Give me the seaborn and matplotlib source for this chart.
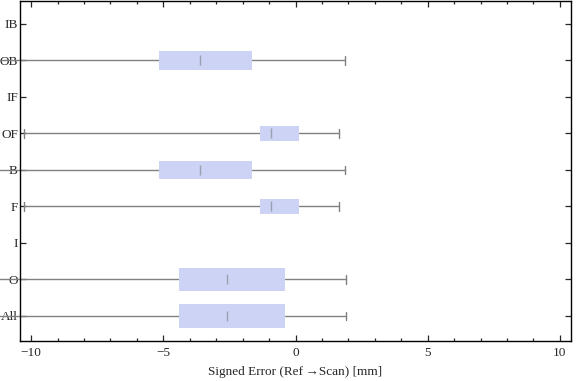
import numpy as np
import matplotlib
matplotlib.use("Agg")
import matplotlib.pyplot as plt
import seaborn as sns
from matplotlib.ticker import MultipleLocator

# rows bottom -> top
categories = ["All", "O", "I", "F", "B", "OF", "IF", "OB", "IB"]
# stats for rows that have a box (None = empty row)
whislo = [-11.3, -11.3, None, -10.27, -11.3, -10.27, None, -11.3, None]
q1     = [-4.40, -4.40, None, -1.34, -5.16, -1.34, None, -5.16, None]
med    = [-2.60, -2.60, None, -0.91, -3.61, -0.91, None, -3.61, None]
q3     = [-0.40, -0.40, None, 0.13, -1.66, 0.13, None, -1.66, None]
whishi = [1.90, 1.90, None, 1.63, 1.88, 1.63, None, 1.88, None]
box_h  = [0.65, 0.65, None, 0.40, 0.51, 0.40, None, 0.51, None]

sns.set_style("ticks")
plt.rcParams["font.family"] = ["Liberation Serif", "DejaVu Serif"]
plt.rcParams["font.size"] = 9

fig = plt.figure(figsize=(5.76, 3.81), dpi=100)
ax = fig.add_axes([20 / 576, 1 - 341 / 381, 551 / 576, 340 / 381])

stats, pos, widths = [], [], []
for i, c in enumerate(categories):
    if q1[i] is None:
        continue
    stats.append(dict(label=c, whislo=whislo[i], q1=q1[i], med=med[i],
                      q3=q3[i], whishi=whishi[i], fliers=[]))
    pos.append(i)
    widths.append(box_h[i])

gray = "#808080"
art = ax.bxp(stats, positions=pos, widths=widths, orientation="horizontal",
             patch_artist=True, showfliers=False, capwidths=[0.22] * len(pos),
             boxprops=dict(facecolor="#CCD3F4", edgecolor="none", linewidth=0),
             whiskerprops=dict(color=gray, linewidth=1.0),
             capprops=dict(color=gray, linewidth=1.0),
             medianprops=dict(linewidth=0, alpha=0), manage_ticks=False)
for ln in art["whiskers"] + art["caps"]:
    ln.set_clip_on(False)
for b in art["boxes"]:
    b.set_zorder(3)

# median marks: short vertical ticks
ax.plot([m for m in med if m is not None], pos, ls="none", marker="|",
        markersize=7, mew=1.0, color="#9aa0b0", zorder=4)

ax.set_xlim(-10.42, 10.42)
ax.set_ylim(-0.685, 8.63)
ax.set_yticks(range(len(categories)))
ax.set_yticklabels(categories)
ax.xaxis.set_major_locator(MultipleLocator(5))
ax.xaxis.set_minor_locator(MultipleLocator(1))
ax.tick_params(axis="x", which="major", direction="in", length=4, width=0.9,
               top=True, bottom=True, pad=4, labelsize=9.5)
ax.tick_params(axis="x", which="minor", direction="in", length=2, width=0.9,
               top=True, bottom=True)
ax.tick_params(axis="y", which="major", direction="in", length=4, width=0.9,
               left=True, right=True, pad=1.5, labelsize=9.5)
for s in ax.spines.values():
    s.set_visible(True)
    s.set_color("black")
    s.set_linewidth(1.0)

ax.set_xlabel("Signed Error (Ref\u2009\u2192Scan) [mm]", fontsize=9.5, labelpad=5)

fig.savefig("out.png", dpi=100)
